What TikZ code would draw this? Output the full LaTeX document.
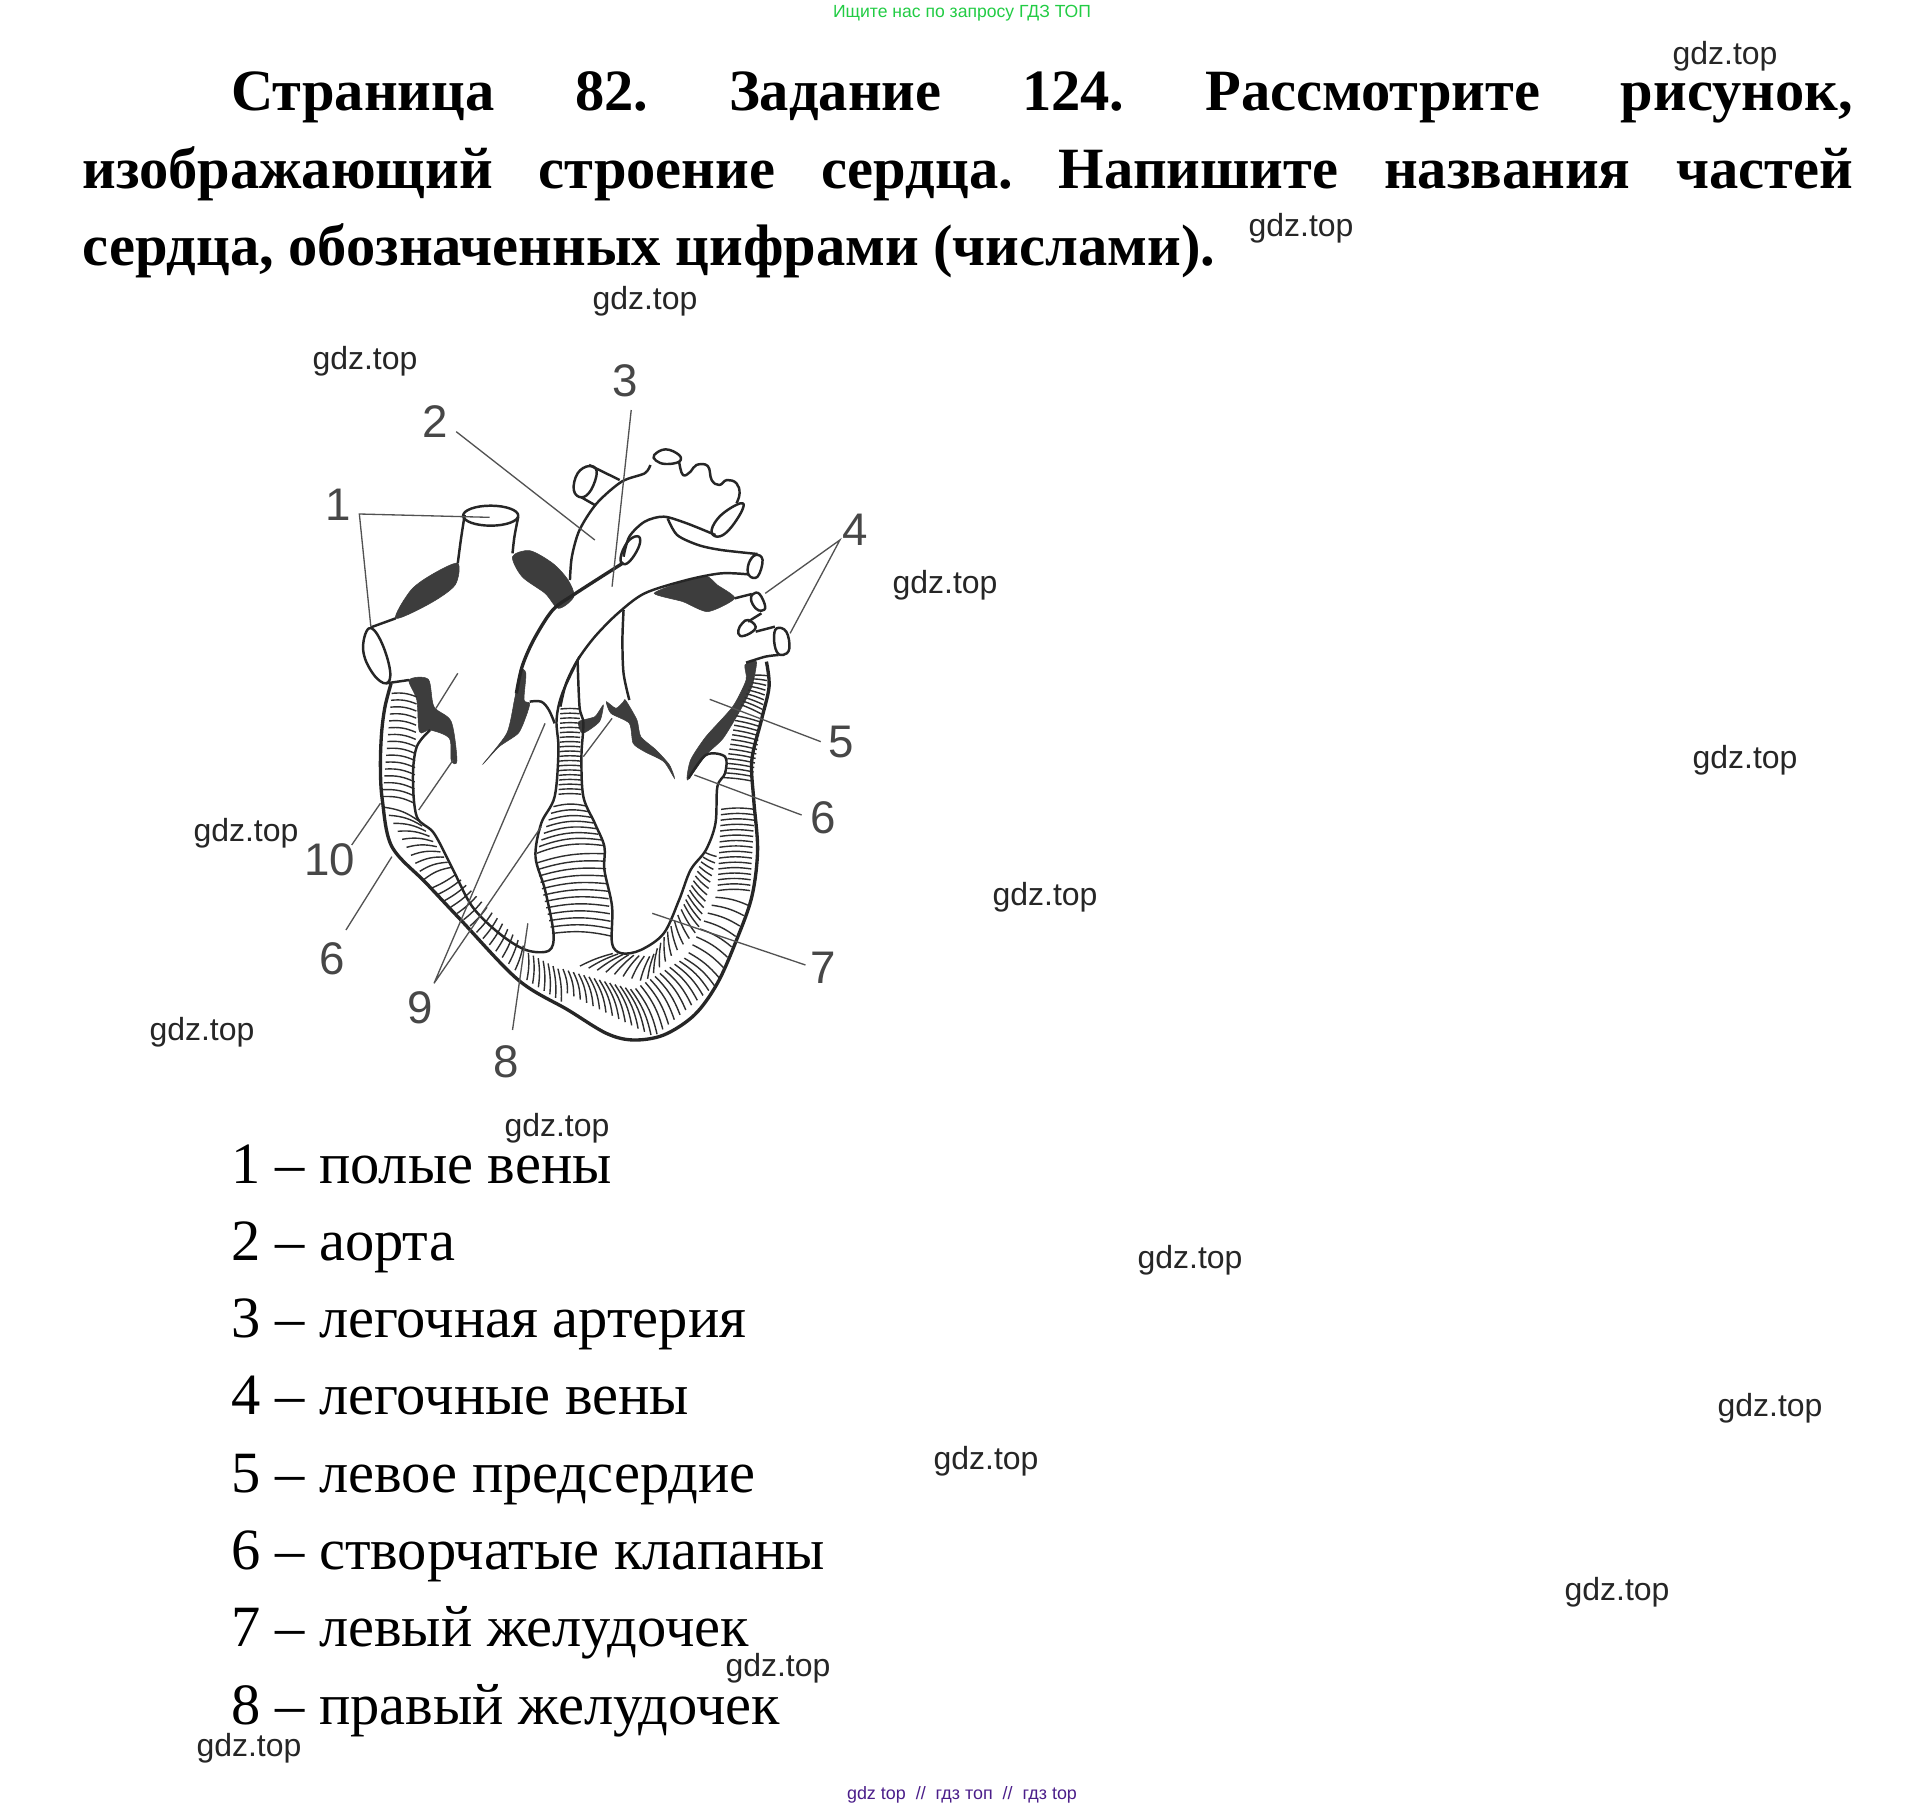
\documentclass[tikz,border=0pt]{standalone}
\usepackage{fontspec}
\setmainfont{Liberation Serif}
\newfontfamily\labelfont{Liberation Sans}
\usetikzlibrary{calc}
\colorlet{penColor}{black!85}
\colorlet{darkColor}{black!76}
\colorlet{leadColor}{black!68}
\definecolor{greenColor}{RGB}{34,204,68}
\definecolor{footColor}{RGB}{75,30,138}
\tikzset{
  titleText/.style={anchor=base west,inner sep=0pt,font=\fontsize{33.3}{38}\selectfont\bfseries},
  listText/.style={anchor=base west,inner sep=0pt,font=\fontsize{33.3}{38}\selectfont},
  wmark/.style={inner sep=0pt,text=black!85,font=\labelfont\fontsize{18.2}{20}\selectfont},
  digit/.style={inner sep=1.5pt,text=black!72,font=\labelfont\fontsize{26}{28}\selectfont},
  wall/.style={penColor,line width=1.4pt,line join=round},
  thick wall/.style={penColor,line width=1.9pt,line join=round},
  dark/.style={fill=darkColor,draw=darkColor,line width=.3pt},
  leader/.style={leadColor,line width=.75pt},
  hatchline/.style={black!82,line width=.8pt},
}
\begin{document}
\begin{tikzpicture}[x=0.02cm,y=-0.02cm]
\useasboundingbox (0,0) rectangle (1927,1810);
\fill[white] (0,0) rectangle (1927,1810);

\node [inner sep=0pt,text=greenColor,font=\labelfont\fontsize{10}{12}\selectfont] (search) at (962,13) {Ищите нас по запросу ГДЗ ТОП};
\node [inner sep=0pt,text=footColor,font=\labelfont\fontsize{10.2}{12}\selectfont] (foot) at (962,1795) {gdz top\ \ //\ \ гдз топ\ \ //\ \ гдз top};

\node [titleText] (title1) at (231,110) {\makebox[923pt][s]{Страница\hspace{.25em plus 1fil}82.\hspace{.25em plus 1fil}Задание\hspace{.25em plus 1fil}124.\hspace{.25em plus 1fil}Рассмотрите\hspace{.25em plus 1fil}рисунок,}};
\node [titleText] (title2) at (82,188) {\makebox[1008pt][s]{изображающий\hspace{.25em plus 1fil}строение\hspace{.25em plus 1fil}сердца.\hspace{.25em plus 1fil}Напишите\hspace{.25em plus 1fil}названия\hspace{.25em plus 1fil}частей}};
\node [titleText] (title3) at (82,265) {сердца, обозначенных цифрами (числами).};

\foreach \t [count=\i] in {полые вены,аорта,легочная артерия,легочные вены,левое предсердие,створчатые клапаны,левый желудочек,правый желудочек}
  \node [listText] (item\i) at (231,{1183+(\i-1)*77.3}) {\i\ – \t};

% labels of the drawing
\node [digit] (lab1) at (338,505) {1};
\node [digit] (lab2) at (435,422) {2};
\node [digit] (lab3) at (625,381) {3};
\node [digit] (lab4) at (855,530) {4};
\node [digit] (lab5) at (841,742) {5};
\node [digit] (lab6r) at (823,818) {6};
\node [digit] (lab7) at (823,968) {7};
\node [digit] (lab8) at (506,1062) {8};
\node [digit] (lab9) at (420,1008) {9};
\node [digit] (lab10) at (330,860) {10};
\node [digit] (lab6l) at (332,959) {6};

\begin{scope}[shift={(300,340)},x=0.007654cm,y=-0.006667cm]
% dark patches
\fill[dark] plot[smooth cycle,tension=.5] coordinates {(412,670)(405,735)(340,790)(250,835)(290,750)(350,700)};
\fill[dark] plot[smooth cycle,tension=.5] coordinates {(555,650)(600,632)(660,670)(700,720)(715,770)(675,805)(640,760)(580,710)};
\fill[dark] plot[smooth cycle,tension=.4] coordinates {(925,760)(1000,725)(1060,708)(1090,735)(1135,775)(1065,815)(1000,785)};
\fill[dark] plot[smooth cycle,tension=.4] coordinates {(1162,975)(1192,965)(1180,1040)(1150,1110)(1105,1195)(1060,1245)(1012,1320)(1020,1260)(1060,1190)(1130,1100)(1165,1020)};
\fill[dark] plot[smooth cycle,tension=.4] coordinates {(800,1085)(812,1120)(860,1150)(870,1210)(900,1235)(950,1265)(978,1315)(965,1275)(930,1230)(890,1190)(880,1140)(850,1080)(845,1085)(825,1105)};
\fill[dark] plot[smooth cycle,tension=.4] coordinates {(575,990)(560,1080)(540,1180)(478,1272)(520,1220)(570,1180)(590,1130)(600,1090)(585,1080)(590,1000)};
\fill[dark] plot[smooth cycle,tension=.5] coordinates {(285,1020)(335,1018)(350,1100)(395,1145)(410,1262)(395,1262)(390,1195)(340,1170)(312,1175)(305,1080)};
\fill[dark] plot[smooth cycle,tension=.4] coordinates {(728,1145)(770,1130)(792,1095)(782,1145)(738,1180)};

% hatching of the walls
\foreach \ax/\ay/\bx/\by/\cx/\cy/\dx/\dy/\n/\b in {
  240/1050/215/1380/305/1060/298/1400/15/14,
  215/1390/330/1630/305/1435/400/1590/9/14,
  335/1635/570/1900/400/1595/590/1825/13/-6,
  585/1915/690/1990/590/1835/680/1890/6/-8,
  680/1100/675/1370/730/1100/735/1370/18/6,
  665/1390/615/1550/745/1390/795/1525/7/14,
  615/1560/660/1790/795/1530/815/1800/11/10,
  720/1875/900/1925/810/1840/920/1850/7/6,
  900/1925/1040/1770/920/1850/1000/1700/8/6,
  1040/1770/1090/1540/1000/1700/1060/1530/11/6,
  1090/1660/1100/1400/1175/1660/1188/1400/15/8,
  1090/1660/1010/1850/1175/1680/1090/1930/7/10,
  1010/1850/870/1950/1090/1930/925/2090/10/12,
  870/1950/680/1885/925/2090/690/1955/13/12,
  1180/1330/1205/1140/1105/1320/1140/1120/13/-4,
  1205/1130/1222/1000/1150/1100/1190/1000/8/-4}
  \foreach \i in {0,...,\n}{
    \pgfmathsetmacro\t{(\i+.5)/(\n+1)}
    \draw[hatchline] ($(\ax,\ay)!\t!(\bx,\by)$) to[bend left=\b] ($(\cx,\cy)!\t!(\dx,\dy)$);
  }

% outlines
\draw[thick wall] plot[smooth,tension=.55] coordinates {(238,1030)(222,1100)(213,1180)(210,1280)(215,1380)(240,1520)(330,1630)(420,1740)(570,1920)(700,2010)(800,2080)(870,2100)(950,2085)(1030,2025)(1090,1930)(1140,1800)(1180,1670)(1195,1530)(1185,1380)(1180,1260)(1205,1140)(1225,1040)(1218,965)};
\draw[wall] plot[smooth,tension=.55] coordinates {(340,1170)(305,1220)(295,1310)(305,1430)(350,1480)(400,1590)(450,1700)(520,1780)(590,1830)(650,1832)(662,1780)(640,1650)(615,1550)(630,1450)(665,1370)(675,1230)(670,1140)(685,1060)(730,950)};
\draw[wall] plot[smooth,tension=.55] coordinates {(725,960)(730,1100)(740,1150)(735,1250)(740,1370)(770,1450)(795,1520)(795,1590)(815,1700)(815,1810)(840,1840)(890,1830)(950,1780)(990,1680)(1020,1590)(1060,1530)(1085,1450)(1090,1340)(1110,1300)(1110,1250)(1060,1245)(1015,1315)};
\draw[wall] plot[smooth,tension=.5] coordinates {(845,810)(842,900)(845,1000)(860,1080)};
% vessels
\draw[wall] (498,527) ellipse [x radius=72,y radius=30];
\draw[wall] plot[smooth] coordinates {(430,525)(420,600)(412,670)};
\draw[wall] plot[smooth] coordinates {(570,530)(560,590)(555,640)};
\draw[wall] plot[smooth cycle,tension=.7] coordinates {(180,865)(210,900)(235,990)(225,1030)(190,1000)(165,930)};
\draw[wall] (185,862) -- (250,835);
\draw[wall] (225,1030) -- (285,1020);
\draw[wall] plot[smooth cycle,tension=.7] coordinates {(755,378)(775,395)(760,450)(735,472)(715,450)(725,400)};
\draw[wall] (755,375) -- (835,420);
\draw[wall] (735,472) -- (770,495);
\draw[wall] plot[smooth,tension=.5] coordinates {(705,720)(710,650)(730,570)(775,490)(840,425)(900,400)(915,375)};
\draw[wall] plot[smooth cycle,tension=.7] coordinates {(925,345)(955,328)(990,345)(990,365)(955,372)(930,362)};
\draw[wall] plot[smooth,tension=.7] coordinates {(990,365)(1000,405)(1020,395)(1035,375)(1065,378)(1075,420)(1095,435)(1115,420)(1140,430)(1148,460)(1140,490)};
\draw[wall] plot[smooth cycle,tension=.7] coordinates {(1150,490)(1155,510)(1120,570)(1090,590)(1075,570)(1100,525)};
\draw[wall] plot[smooth,tension=.5] coordinates {(1085,585)(1010,550)(950,530)(900,545)(860,590)(845,650)};
\draw[wall] plot[smooth cycle,tension=.7] coordinates {(885,590)(885,620)(860,665)(840,670)(840,640)(860,600)};
\draw[wall] plot[smooth,tension=.5] coordinates {(960,535)(985,585)(1040,615)(1100,630)(1195,642)};
\draw[wall] plot[smooth cycle,tension=.7] coordinates {(1190,645)(1208,660)(1195,710)(1172,705)(1172,670)};
\draw[wall] plot[smooth,tension=.5] coordinates {(1170,703)(1100,700)(1010,720)(900,760)(830,820)(770,890)(725,960)(695,1030)(680,1100)};
\draw[thick wall] plot[smooth,tension=.5] coordinates {(845,668)(720,760)(660,810)(610,900)(580,980)(565,1060)};
\draw[wall] plot[smooth,tension=.6] coordinates {(600,1085)(630,1085)(650,1110)(665,1150)};
% pulmonary veins
\draw[wall] (1135,775) -- (1180,762);
\draw[wall] plot[smooth cycle,tension=.7] coordinates {(1183,762)(1200,762)(1215,800)(1205,812)(1190,805)(1178,780)};
\draw[wall] (1205,820) -- (1170,845);
\draw[wall] plot[smooth cycle,tension=.7] coordinates {(1170,840)(1190,860)(1175,880)(1150,888)(1145,870)(1155,850)};
\draw[wall] (1190,875) -- (1240,860);
\draw[wall] plot[smooth cycle,tension=.7] coordinates {(1245,865)(1270,875)(1278,925)(1262,945)(1245,935)(1238,895)};
\draw[wall] plot[smooth] coordinates {(1250,945)(1215,950)(1165,968)};

% leaders
\coordinate (join1) at (155,522);
\coordinate (end1a) at (495,532);
\coordinate (end1b) at (185,860);
\coordinate (start2) at (408,275);
\coordinate (end2) at (770,600);
\coordinate (start3) at (865,210);
\coordinate (end3) at (815,740);
\coordinate (join4) at (1410,600);
\coordinate (end4a) at (1215,760);
\coordinate (end4b) at (1280,880);
\coordinate (start5) at (1360,1205);
\coordinate (end5) at (1070,1078);
\coordinate (start6r) at (1310,1425);
\coordinate (end6r) at (1030,1305);
\coordinate (start7) at (1320,1875);
\coordinate (end7) at (920,1720);
\coordinate (start8) at (555,2070);
\coordinate (end8) at (595,1750);
\coordinate (join9) at (350,1930);
\coordinate (end9a) at (640,1150);
\coordinate (end9b) at (630,1460);
\coordinate (mid9) at (740,1250);
\coordinate (end9c) at (815,1135);
\coordinate (start10) at (135,1515);
\coordinate (end10a) at (210,1390);
\coordinate (mid10) at (355,1105);
\coordinate (end10b) at (412,1000);
\coordinate (start6l) at (120,1770);
\coordinate (end6la) at (240,1550);
\coordinate (mid6l) at (310,1410);
\coordinate (end6lb) at (400,1260);
\draw[leader] (end1a) -- (join1) -- (end1b);
\draw[leader] (start2) -- (end2);
\draw[leader] (start3) -- (end3);
\draw[leader] (end4a) -- (join4) -- (end4b);
\draw[leader] (start5) -- (end5);
\draw[leader] (start6r) -- (end6r);
\draw[leader] (start7) -- (end7);
\draw[leader] (start8) -- (end8);
\draw[leader] (end9a) -- (join9) -- (end9b);
\draw[leader] (mid9) -- (end9c);
\draw[leader] (start10) -- (end10a);
\draw[leader] (mid10) -- (end10b);
\draw[leader] (start6l) -- (end6la);
\draw[leader] (mid6l) -- (end6lb);
\end{scope}

% watermarks
\foreach \wx/\wy [count=\n] in {1725/56,1301/228,645/301,365/361,945/585,1745/760,246/833,1045/897,202/1032,557/1128,1190/1260,1770/1408,986/1461,1617/1592,778/1668,249/1748}
  \node [wmark] (wm\n) at (\wx,\wy) {gdz.top};
\end{tikzpicture}
\end{document}
